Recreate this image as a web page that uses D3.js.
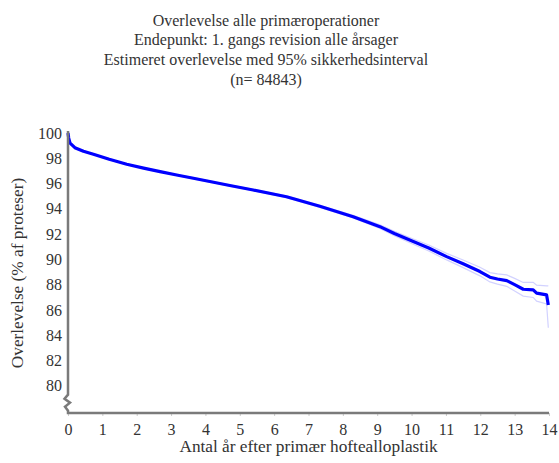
<!DOCTYPE html>
<html>
<head>
<meta charset="utf-8">
<script src="https://cdn.jsdelivr.net/npm/d3@7"></script>
</head>
<body style="margin:0;background:#fff">
<svg id="chart" width="559" height="463"></svg>
<script>
// Kaplan-Meier estimate: years after primary surgery vs. implant survival (%)
const years = [0, 0.02, 0.06, 0.2, 0.45, 0.74, 1.2, 1.71, 2.2, 2.68, 3.2, 3.65, 4.2, 4.71, 5.39, 6.36, 7.33, 8.3, 9.08, 9.5, 10.05, 10.5, 11.02, 11.5, 11.99, 12.28, 12.5, 12.77, 13.0, 13.25, 13.54, 13.64, 13.93, 13.98];
const survival = [100, 99.6, 99.2, 98.84, 98.55, 98.32, 97.92, 97.53, 97.22, 96.94, 96.66, 96.42, 96.12, 95.85, 95.49, 94.96, 94.2, 93.38, 92.59, 92.05, 91.41, 90.9, 90.22, 89.65, 89.04, 88.59, 88.45, 88.32, 88.0, 87.64, 87.59, 87.33, 87.19, 86.4];
const lower = [100, 99.57, 99.17, 98.8, 98.51, 98.28, 97.88, 97.49, 97.18, 96.9, 96.62, 96.37, 96.07, 95.8, 95.43, 94.89, 94.12, 93.28, 92.45, 91.88, 91.2, 90.66, 89.96, 89.35, 88.7, 88.22, 88.05, 87.87, 87.5, 87.1, 86.99, 86.7, 86.47, 84.6];
const upper = [100, 99.63, 99.23, 98.88, 98.59, 98.36, 97.96, 97.57, 97.26, 96.98, 96.7, 96.47, 96.17, 95.9, 95.55, 95.03, 94.28, 93.48, 92.73, 92.22, 91.62, 91.14, 90.48, 89.95, 89.38, 88.96, 88.85, 88.77, 88.5, 88.18, 88.19, 87.96, 87.91, 87.9];

const yTicks = [80, 82, 84, 86, 88, 90, 92, 94, 96, 98, 100];
const xTicks = [0, 1, 2, 3, 4, 5, 6, 7, 8, 9, 10, 11, 12, 13, 14];

const titleLines = [
  "Overlevelse alle primæroperationer",
  "Endepunkt: 1. gangs revision alle årsager",
  "Estimeret overlevelse med 95% sikkerhedsinterval",
  "(n= 84843)"
];
const xLabel = "Antal år efter primær hoftealloplastik";
const yLabel = "Overlevelse (% af proteser)";

const FONT = "'Liberation Serif', 'Times New Roman', serif";
const INK = "#333";

const svg = d3.select("#chart");

const x = d3.scaleLinear().domain([0, 14]).range([68, 549]);
const y = d3.scaleLinear().domain([77.85, 100]).range([413, 133]);

function styleText(sel, size) {
  sel.style("font-family", FONT).style("font-size", size + "px").style("fill", INK);
}

// Title block
svg.append("g")
  .selectAll("text")
  .data(titleLines)
  .join("text")
  .attr("x", 266)
  .attr("y", (d, i) => 25.5 + i * 19.7)
  .attr("text-anchor", "middle")
  .call(styleText, 16)
  .text(d => d);

// Confidence band edges
const line = d3.line().x((d, i) => x(years[i])).y(d => y(d));
[lower, upper].forEach(arr => {
  svg.append("path")
    .attr("d", line(arr))
    .attr("fill", "none")
    .attr("stroke", "#d2d2ff")
    .attr("stroke-width", 1.2);
});

// Survival estimate
svg.append("path")
  .attr("d", line(survival))
  .attr("fill", "none")
  .attr("stroke", "#0000ff")
  .attr("stroke-width", 3.2)
  .attr("stroke-linejoin", "round");

// Axes
const axisColor = "#7a7a7a";
const yAxis = d3.axisLeft(y).tickValues(yTicks).tickSize(0).tickPadding(6).tickFormat(d3.format("d"));
const gy = svg.append("g").attr("transform", `translate(${x(0)},0)`).call(yAxis);
gy.select(".domain").remove();
gy.selectAll("text").call(styleText, 16);

const xAxis = d3.axisBottom(x).tickValues(xTicks).tickSize(3).tickPadding(8).tickFormat(d3.format("d"));
const gx = svg.append("g").attr("transform", `translate(0,${y(77.85)})`).call(xAxis);
gx.select(".domain").remove();
gx.selectAll("line").attr("stroke", "#ccc");
gx.selectAll("text").call(styleText, 16);

// Vertical axis line with a break mark near the bottom, joined to the x axis
const x0 = x(0);
const yb = y(79.3);
svg.append("path")
  .attr("d", `M${x0},${y(100) - 2}V${yb} L${x0 - 3.5},${yb + 4} L${x0 + 2},${yb + 8} L${x0 - 3},${yb + 12} L${x0},${yb + 16} V${y(77.85)} H${x(14)}`)
  .attr("fill", "none")
  .attr("stroke", axisColor)
  .attr("stroke-width", 2.5);

// Axis titles
svg.append("text")
  .attr("x", (x(0) + x(14)) / 2)
  .attr("y", 452)
  .attr("text-anchor", "middle")
  .call(styleText, 17.3)
  .text(xLabel);

svg.append("text")
  .attr("transform", `translate(23,${(y(100) + y(77.85)) / 2}) rotate(-90)`)
  .attr("text-anchor", "middle")
  .call(styleText, 17.3)
  .text(yLabel);
</script>
</body>
</html>
